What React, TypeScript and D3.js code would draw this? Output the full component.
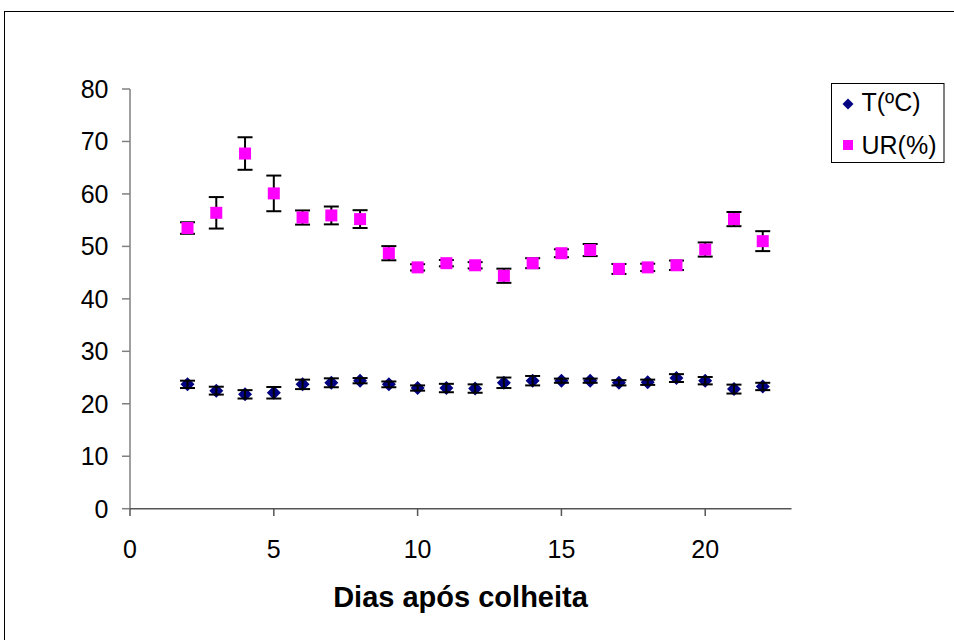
import React from "react";
import * as d3 from "d3";

const days = [2, 3, 4, 5, 6, 7, 8, 9, 10, 11, 12, 13, 14, 15, 16, 17, 18, 19, 20, 21, 22];
const tMean = [23.7, 22.5, 21.8, 22.1, 23.7, 24.0, 24.4, 23.7, 23.0, 23.0, 22.9, 24.0, 24.4, 24.4, 24.4, 24.0, 24.1, 24.9, 24.4, 22.8, 23.3];
const tErr = [0.7, 0.75, 0.8, 1.1, 0.9, 0.85, 0.5, 0.55, 0.5, 0.8, 0.8, 1.0, 0.9, 0.4, 0.4, 0.5, 0.5, 0.75, 0.7, 0.85, 0.7];
const urMean = [53.5, 56.4, 67.7, 60.1, 55.5, 55.9, 55.2, 48.7, 46.0, 46.8, 46.4, 44.4, 46.8, 48.7, 49.3, 45.7, 46.0, 46.4, 49.4, 55.2, 51.0];
const urErr = [1.1, 3.0, 3.1, 3.4, 1.35, 1.7, 1.7, 1.35, 0.6, 0.6, 0.6, 1.35, 0.95, 0.75, 1.15, 0.95, 0.7, 0.9, 1.35, 1.35, 1.9];
const xTicks = [0, 5, 10, 15, 20];
const yTicks = [0, 10, 20, 30, 40, 50, 60, 70, 80];
const seriesNames = ["T(ºC)", "UR(%)"];

const W = 954;
const H = 640;
const FONT = "'Liberation Sans', Arial, sans-serif";

export default function App() {
  const x = d3.scaleLinear().domain([0, 23]).range([130, 791.5]);
  const y = d3.scaleLinear().domain([0, 80]).range([508.7, 89]);
  const diamond = (cx: number, cy: number, r: number) =>
    `M${cx},${cy - r}L${cx + r},${cy}L${cx},${cy + r}L${cx - r},${cy}Z`;
  const errBar = (cx: number, m: number, e: number, key: string) => (
    <g key={key} stroke="#000" strokeWidth={2}>
      <line x1={cx} x2={cx} y1={y(m + e)} y2={y(m - e)} />
      <line x1={cx - 7.5} x2={cx + 7.5} y1={y(m + e)} y2={y(m + e)} />
      <line x1={cx - 7.5} x2={cx + 7.5} y1={y(m - e)} y2={y(m - e)} />
    </g>
  );
  return (
    <svg width={W} height={H} style={{ position: "absolute", left: 0, top: 0, background: "#fff" }}>
      <rect x={0} y={0} width={W} height={H} fill="#fff" />
      <rect x={4.5} y={11.5} width={W + 20} height={H + 20} fill="none" stroke="#000" strokeWidth={1} />
      {/* axes */}
      <line x1={130} x2={130} y1={89} y2={508.7} stroke="#808080" strokeWidth={1.5} />
      <line x1={130} x2={791.5} y1={508.7} y2={508.7} stroke="#555" strokeWidth={1.5} />
      {yTicks.map((t) => (
        <g key={"y" + t}>
          <line x1={122} x2={130} y1={y(t)} y2={y(t)} stroke="#808080" strokeWidth={1.5} />
          <text x={108.5} y={y(t) + 9} textAnchor="end" fontFamily={FONT} fontSize={25} fill="#000">{t}</text>
        </g>
      ))}
      {xTicks.map((t) => (
        <g key={"x" + t}>
          <line x1={x(t)} x2={x(t)} y1={508.7} y2={516} stroke="#555" strokeWidth={1.5} />
          <text x={x(t)} y={558} textAnchor="middle" fontFamily={FONT} fontSize={25} fill="#000">{t}</text>
        </g>
      ))}
      <text x={460.5} y={607} textAnchor="middle" fontFamily={FONT} fontSize={29} fontWeight="bold" fill="#000">Dias após colheita</text>
      {/* UR series */}
      {days.map((d, i) => errBar(x(d), urMean[i], urErr[i], "ue" + i))}
      {days.map((d, i) => (
        <rect key={"u" + i} x={x(d) - 6} y={y(urMean[i]) - 6} width={12} height={12} fill="#FF00FF" />
      ))}
      {/* T series */}
      {days.map((d, i) => (
        <path key={"t" + i} d={diamond(x(d), y(tMean[i]), 7)} fill="#000080" />
      ))}
      {days.map((d, i) => errBar(x(d), tMean[i], tErr[i], "te" + i))}
      {/* legend */}
      <rect x={831.5} y={83.5} width={112.5} height={79} fill="#fff" stroke="#000" strokeWidth={1} />
      <path d={diamond(848, 104, 5.5)} fill="#000080" />
      <text x={861.5} y={111} fontFamily={FONT} fontSize={25} fill="#000">{seriesNames[0]}</text>
      <rect x={843} y={140} width={10} height={10} fill="#FF00FF" />
      <text x={861.5} y={154} fontFamily={FONT} fontSize={25} fill="#000">{seriesNames[1]}</text>
    </svg>
  );
}
